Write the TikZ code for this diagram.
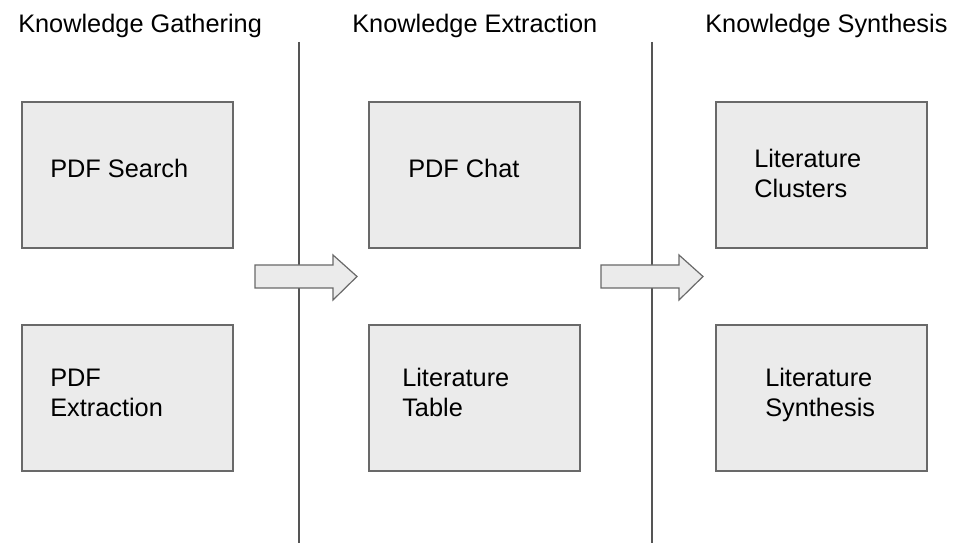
\documentclass[tikz,border=0pt]{standalone}
\usepackage{fontspec}
\setmainfont{Liberation Sans}
\usepackage{tikz}
\usetikzlibrary{positioning, calc}
\definecolor{boxfill}{RGB}{235,235,235}
\definecolor{boxline}{RGB}{105,105,105}
\definecolor{divline}{RGB}{85,85,85}
\tikzset{
  stagebox/.style={rectangle, draw=boxline, fill=boxfill,
    minimum width=158.25pt, minimum height=109.5pt,
    line width=0.9pt, inner sep=0pt},
  boxtext/.style={align=left, anchor=west, inner sep=0pt,
    font=\fontsize{19}{22.5}\selectfont},
  header/.style={anchor=base west, inner sep=0pt,
    font=\fontsize{19}{22.5}\selectfont},
  divider/.style={divline, line width=1pt},
  blockarrow/.style={draw=boxline, fill=boxfill, line width=0.9pt, line join=miter}
}
\begin{document}
\begin{tikzpicture}[x=0.75pt, y=-0.75pt]
  \useasboundingbox (0,0) rectangle (964,548);
  % Stage headers
  \node[header] (hgather)  at (18,33)  {Knowledge Gathering};
  \node[header] (hextract) at (352,33) {Knowledge Extraction};
  \node[header] (hsynth)   at (705,33) {Knowledge Synthesis};
  % Dividers
  \draw[divider] (299,42) -- (299,543);
  \draw[divider] (652,42) -- (652,543);
  % Boxes
  \node[stagebox] (search)   at (127.5,175)  {};
  \node[stagebox] (extract)  at (127.5,398)  {};
  \node[stagebox] (chat)     at (474.5,175)  {};
  \node[stagebox] (table)    at (474.5,398)  {};
  \node[stagebox] (clusters) at (821.5,175)  {};
  \node[stagebox] (synth)    at (821.5,398)  {};
  % Box labels
  \node[boxtext] (tsearch)   at (50,168)  {PDF Search};
  \node[boxtext] (textract)  at (50,393)  {PDF\\Extraction};
  \node[boxtext] (tchat)     at (408,168) {PDF Chat};
  \node[boxtext] (ttable)    at (402,392) {Literature\\Table};
  \node[boxtext] (tclusters) at (754,173) {Literature\\Clusters};
  \node[boxtext] (tsynth)    at (765,395) {Literature\\Synthesis};
  % Flow arrows
  \foreach \x in {255,601}
    \draw[blockarrow] (\x,265) -- ++(78,0) -- ++(0,-10) -- ++(24,21.5)
      -- ++(-24,23.5) -- ++(0,-12) -- ++(-78,0) -- cycle;
\end{tikzpicture}
\end{document}
